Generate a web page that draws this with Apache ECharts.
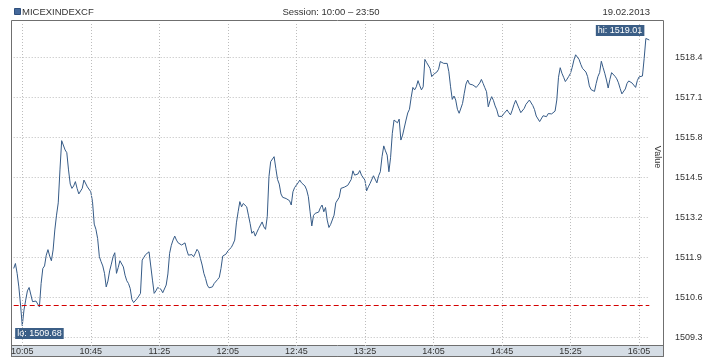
<!DOCTYPE html>
<html><head><meta charset="utf-8">
<script src="https://cdn.jsdelivr.net/npm/echarts@6/dist/echarts.min.js"></script>
<style>html,body{margin:0;padding:0;background:#fff}#c{width:718px;height:360px}</style>
</head><body><div id="c"></div>
<script>
const symbolName = 'MICEXINDEXCF';
const sessionText = 'Session: 10:00 – 23:50';
const dateText = '19.02.2013';
const axisName = 'Value';
const startMinute = 600; // first point 10:00, one point per minute
const values = [
1511.54,1511.70,1511.38,1510.94,1510.35,1509.68,1510.19,1510.51,1510.81,1510.92,
1510.98,1510.46,1510.42,1510.48,1510.51,1510.29,1511.05,1511.54,1511.62,1511.97,
1512.15,1511.94,1511.79,1512.14,1512.79,1513.27,1513.67,1514.74,1515.69,1515.73,
1515.39,1515.30,1514.74,1514.28,1514.14,1514.22,1514.36,1514.14,1513.96,1513.96,
1514.14,1514.41,1514.36,1514.19,1514.14,1514.03,1513.71,1512.98,1512.81,1512.51,
1511.92,1511.76,1511.62,1511.38,1510.94,1511.13,1511.46,1511.68,1511.92,1512.05,
1511.38,1511.57,1511.79,1511.81,1511.59,1511.32,1511.14,1511.05,1510.89,1510.53,
1510.43,1510.49,1510.56,1510.64,1510.73,1511.81,1511.90,1511.99,1512.05,1512.08,
1512.03,1511.16,1510.73,1510.81,1510.92,1510.98,1510.86,1510.75,1510.78,1511.00,
1511.36,1512.03,1512.29,1512.46,1512.59,1512.46,1512.37,1512.33,1512.30,1512.30,
1512.37,1512.14,1511.97,1512.03,1511.99,1511.92,1512.03,1512.16,1512.08,1511.86,
1511.65,1511.38,1511.21,1511.00,1510.91,1510.92,1510.94,1511.05,1511.11,1511.18,
1511.25,1511.54,1511.94,1511.96,1512.01,1512.11,1512.14,1512.22,1512.33,1512.46,
1513.02,1513.38,1513.71,1513.54,1513.65,1513.60,1513.54,1513.27,1513.00,1512.68,
1512.75,1512.59,1512.72,1512.84,1512.87,1513.05,1512.89,1512.81,1513.22,1514.52,
1515.01,1515.06,1515.17,1514.79,1514.43,1514.28,1513.96,1513.85,1513.87,1513.81,
1513.87,1513.74,1513.60,1514.03,1514.17,1514.22,1514.32,1514.41,1514.32,1514.36,
1514.22,1514.09,1513.87,1513.38,1512.92,1513.26,1513.33,1513.33,1513.37,1513.51,
1513.60,1513.38,1513.52,1513.11,1512.87,1512.97,1513.01,1513.27,1513.67,1513.71,
1513.85,1514.14,1514.17,1514.18,1514.15,1514.24,1514.30,1514.43,1514.71,1514.57,
1514.52,1514.61,1514.72,1514.57,1514.54,1514.41,1514.06,1514.19,1514.30,1514.30,
1514.55,1514.50,1514.32,1514.55,1514.68,1515.17,1515.52,1515.36,1515.22,1514.68,
1515.15,1515.93,1516.36,1516.33,1516.27,1516.39,1515.71,1515.87,1515.87,1516.36,
1516.59,1516.71,1517.09,1517.42,1517.34,1517.44,1517.64,1517.48,1517.34,1517.44,
1518.33,1518.23,1518.22,1518.04,1517.77,1517.84,1517.82,1517.92,1518.01,1518.26,
1518.31,1518.20,1518.19,1518.20,1517.93,1517.44,1517.03,1517.14,1517.01,1516.71,
1516.58,1516.58,1516.90,1517.23,1517.53,1517.66,1517.53,1517.55,1517.50,1517.45,
1517.42,1517.49,1517.56,1517.68,1517.55,1517.41,1517.28,1516.79,1516.98,1517.12,
1517.00,1516.82,1516.69,1516.48,1516.45,1516.48,1516.56,1516.57,1516.69,1516.60,
1516.53,1516.68,1516.86,1517.00,1516.95,1516.73,1516.60,1516.63,1516.74,1516.87,
1516.92,1517.01,1516.95,1516.83,1516.70,1516.49,1516.43,1516.31,1516.36,1516.50,
1516.46,1516.47,1516.57,1516.59,1516.56,1516.52,1516.65,1517.01,1517.75,1518.06,
1517.88,1517.75,1517.61,1517.69,1517.78,1517.88,1518.07,1518.31,1518.48,1518.43,
1518.33,1518.17,1518.04,1517.99,1517.92,1517.77,1517.47,1517.35,1517.35,1517.29,
1517.55,1517.77,1517.90,1518.27,1518.07,1517.88,1517.66,1517.40,1517.68,1517.90,
1517.86,1517.78,1517.70,1517.57,1517.38,1517.21,1517.21,1517.37,1517.55,1517.63,
1517.57,1517.56,1517.51,1517.42,1517.64,1517.76,1517.79,1517.79,1518.36,1519.01,
1518.96,1518.96
];
const xTickLabels = ['10:05','10:45','11:25','12:05','12:45','13:25','14:05','14:45','15:25','16:05'];
const yTicks = [1509.3, 1510.6, 1511.9, 1513.2, 1514.5, 1515.8, 1517.1, 1518.4];
const prevClose = 1510.35;
const yMin = 1509.02, yMax = 1519.48;

const times = values.map((v, i) => {
  const m = startMinute + i;
  return String(Math.floor(m / 60)).padStart(2, '0') + ':' + String(m % 60).padStart(2, '0');
});
const FONT = '"Liberation Sans", Arial, sans-serif';
const showTick = (i, v) => xTickLabels.indexOf(times[i]) >= 0;
const gridStyle = { color: '#bdbdbd', width: 1, type: [1, 2] };
const tagLabel = {
  show: true, backgroundColor: '#3b5e86', color: '#fff', fontSize: 9, fontFamily: FONT,
  padding: [1, 2, 1, 2], lineHeight: 9
};

const chart = echarts.init(document.getElementById('c'), null, { renderer: 'canvas' });
chart.setOption({
  animation: false,
  backgroundColor: '#fff',
  grid: { left: 13.7, right: 68.7, top: 24, bottom: 14, containLabel: false },
  xAxis: {
    type: 'category', data: times, boundaryGap: false, z: 10,
    axisLine: { show: false }, axisTick: { show: false },
    axisLabel: { interval: showTick, fontSize: 9, fontFamily: FONT, color: '#333', margin: 0, lineHeight: 11 },
    splitLine: { show: true, interval: showTick, lineStyle: gridStyle }
  },
  yAxis: {
    type: 'value', position: 'right', min: yMin, max: yMax, scale: true,
    axisLine: { show: false },
    axisTick: { show: false, customValues: yTicks },
    axisLabel: { customValues: yTicks, formatter: v => Number(v).toFixed(1), fontSize: 9, fontFamily: FONT, color: '#333', margin: 25.7, align: 'left' },
    splitLine: { show: true, lineStyle: gridStyle }
  },
  series: [{
    type: 'line', data: values, showSymbol: false, symbol: 'none',
    lineStyle: { color: '#365b87', width: 1 },
    markLine: {
      silent: true, symbol: ['none', 'none'], label: { show: false },
      lineStyle: { color: '#d40000', width: 1, type: [5, 3] },
      data: [{ yAxis: prevClose }]
    },
    markPoint: {
      symbol: 'circle', symbolSize: 1, itemStyle: { color: 'rgba(0,0,0,0)' },
      data: [
        { type: 'max', label: Object.assign({}, tagLabel, { formatter: p => 'hi: ' + Number(p.value).toFixed(2), position: [-1, -2], align: 'right', verticalAlign: 'bottom' }) },
        { type: 'min', label: Object.assign({}, tagLabel, { formatter: p => 'lo: ' + Number(p.value).toFixed(2), position: [-6.6, 2.7], align: 'left', verticalAlign: 'top' }) }
      ]
    }
  }],
  graphic: {
    z: -1,
    elements: [
      { type: 'rect', z: -1, silent: true, shape: { x: 11.5, y: 345.5, width: 652, height: 11 }, style: { fill: '#d5dde5', stroke: '#6f6f6f', lineWidth: 1 } },
      { type: 'rect', silent: true, shape: { x: 11.5, y: 20.5, width: 652, height: 336 }, style: { fill: 'none', stroke: '#6f6f6f', lineWidth: 1 } },
      { type: 'rect', silent: true, shape: { x: 14.5, y: 8.5, width: 6, height: 6 }, style: { fill: '#44689a', stroke: '#2f4f7c', lineWidth: 1 } },
      { type: 'text', silent: true, x: 22, y: 12.5, style: { text: symbolName, fontSize: 9.5, fontFamily: FONT, fill: '#333', align: 'left', verticalAlign: 'middle' } },
      { type: 'text', silent: true, x: 331, y: 12.5, style: { text: sessionText, fontSize: 9.5, fontFamily: FONT, fill: '#333', align: 'center', verticalAlign: 'middle' } },
      { type: 'text', silent: true, x: 650, y: 12.5, style: { text: dateText, fontSize: 9.5, fontFamily: FONT, fill: '#333', align: 'right', verticalAlign: 'middle' } },
      { type: 'text', silent: true, x: 657, y: 157, rotation: -Math.PI / 2, style: { text: axisName, fontSize: 9, fontFamily: FONT, fill: '#333', align: 'center', verticalAlign: 'middle' } }
    ]
  }
});
</script>
</body></html>
